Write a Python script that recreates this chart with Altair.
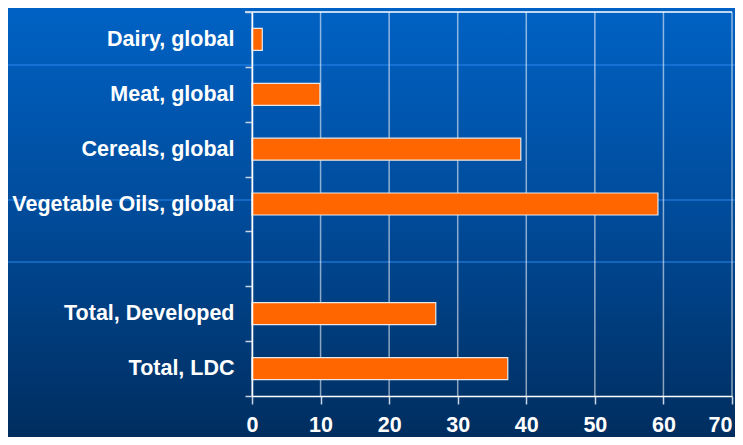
import altair as alt
import pandas as pd

categories = ["Dairy, global", "Meat, global", "Cereals, global", "Vegetable Oils, global", " ",
              "Total, Developed", "Total, LDC"]
bar_labels = ["Dairy, global", "Meat, global", "Cereals, global", "Vegetable Oils, global",
              "Total, Developed", "Total, LDC"]
bar_values = [1.5, 9.9, 39.2, 59.2, 26.8, 37.3]
x_ticks = [0, 10, 20, 30, 40, 50, 60, 70]

df = pd.DataFrame({"cat": bar_labels, "val": bar_values})
grid_df = pd.DataFrame({"t": x_ticks})

W, H = 480, 384
PAD = {"left": 244, "top": 4, "right": 3, "bottom": 41}

xscale = alt.Scale(domain=[0, 70], nice=False, zero=True)
yscale = alt.Scale(domain=categories, paddingInner=0, paddingOuter=0)

gradient = alt.Gradient(
    gradient="linear",
    stops=[alt.GradientStop(color="#0063c6", offset=0),
           alt.GradientStop(color="#004a98", offset=0.5),
           alt.GradientStop(color="#002c5c", offset=1)],
    x1=0, x2=0, y1=0, y2=1,
)

bg = alt.Chart(alt.Data(values=[{"a": 1}])).mark_rect(fill=gradient, strokeWidth=0).encode(
    x=alt.value(-PAD["left"] - 10), x2=alt.value(W + PAD["right"] + 10),
    y=alt.value(-PAD["top"] - 10), y2=alt.value(H + PAD["bottom"] + 10),
)

deco = alt.Chart(alt.Data(values=[{"y": 53}, {"y": 188}, {"y": 250}])).mark_rule(
    color="#2a86ee", strokeWidth=2, opacity=0.5
).encode(
    x=alt.value(-PAD["left"] - 10), x2=alt.value(W + PAD["right"] + 10),
    y=alt.Y("y:Q", scale=None),
)

grid = alt.Chart(grid_df).mark_rule(color="#ffffff", opacity=0.55, strokeWidth=1.5).encode(
    x=alt.X("t:Q", scale=xscale, title=None),
    y=alt.value(0), y2=alt.value(H),
)

frame = alt.Chart(alt.Data(values=[{"a": 1}])).mark_rule(color="white", strokeWidth=1.5).encode(
    x=alt.value(-7), x2=alt.value(W), y=alt.value(0),
)

xaxis = alt.Axis(values=x_ticks, grid=False, zindex=1, labelFontSize=21.5, labelFont="Liberation Sans",
                 labelFontWeight="bold", labelColor="white", domainColor="white", domainWidth=1.5,
                 tickColor="#c8d4e4", tickSize=8, tickWidth=1.5, labelPadding=27,
                 labelFlush=False, labelBaseline="alphabetic", labelOverlap=False,
                 labelAlign={"condition": {"test": "datum.value === 70", "value": "right"},
                             "value": "center"})

bars = alt.Chart(df).mark_bar(color="#ff6600", stroke="#e8e8e8", strokeWidth=1.2, size=22).encode(
    x=alt.X("val:Q", scale=xscale, title=None, axis=xaxis),
    y=alt.Y("cat:N", scale=yscale, sort=categories, title=None,
            axis=alt.Axis(grid=False, zindex=1, tickBand="extent", labelFontSize=21.5,
                          labelFont="Liberation Sans", labelFontWeight="bold", labelColor="white",
                          domainColor="white", domainWidth=1.5, tickColor="#c8d4e4", tickSize=7,
                          tickWidth=1.5, labelPadding=11, labelLimit=400)),
)

chart = alt.layer(bg, deco, grid, bars, frame).properties(
    width=W, height=H, padding=PAD, autosize=alt.AutoSizeParams(type="none"),
    background="#003c78",
).configure_view(stroke="white", strokeWidth=1.5)

chart.save("out.html", embed_options={"renderer": "svg", "actions": False})
